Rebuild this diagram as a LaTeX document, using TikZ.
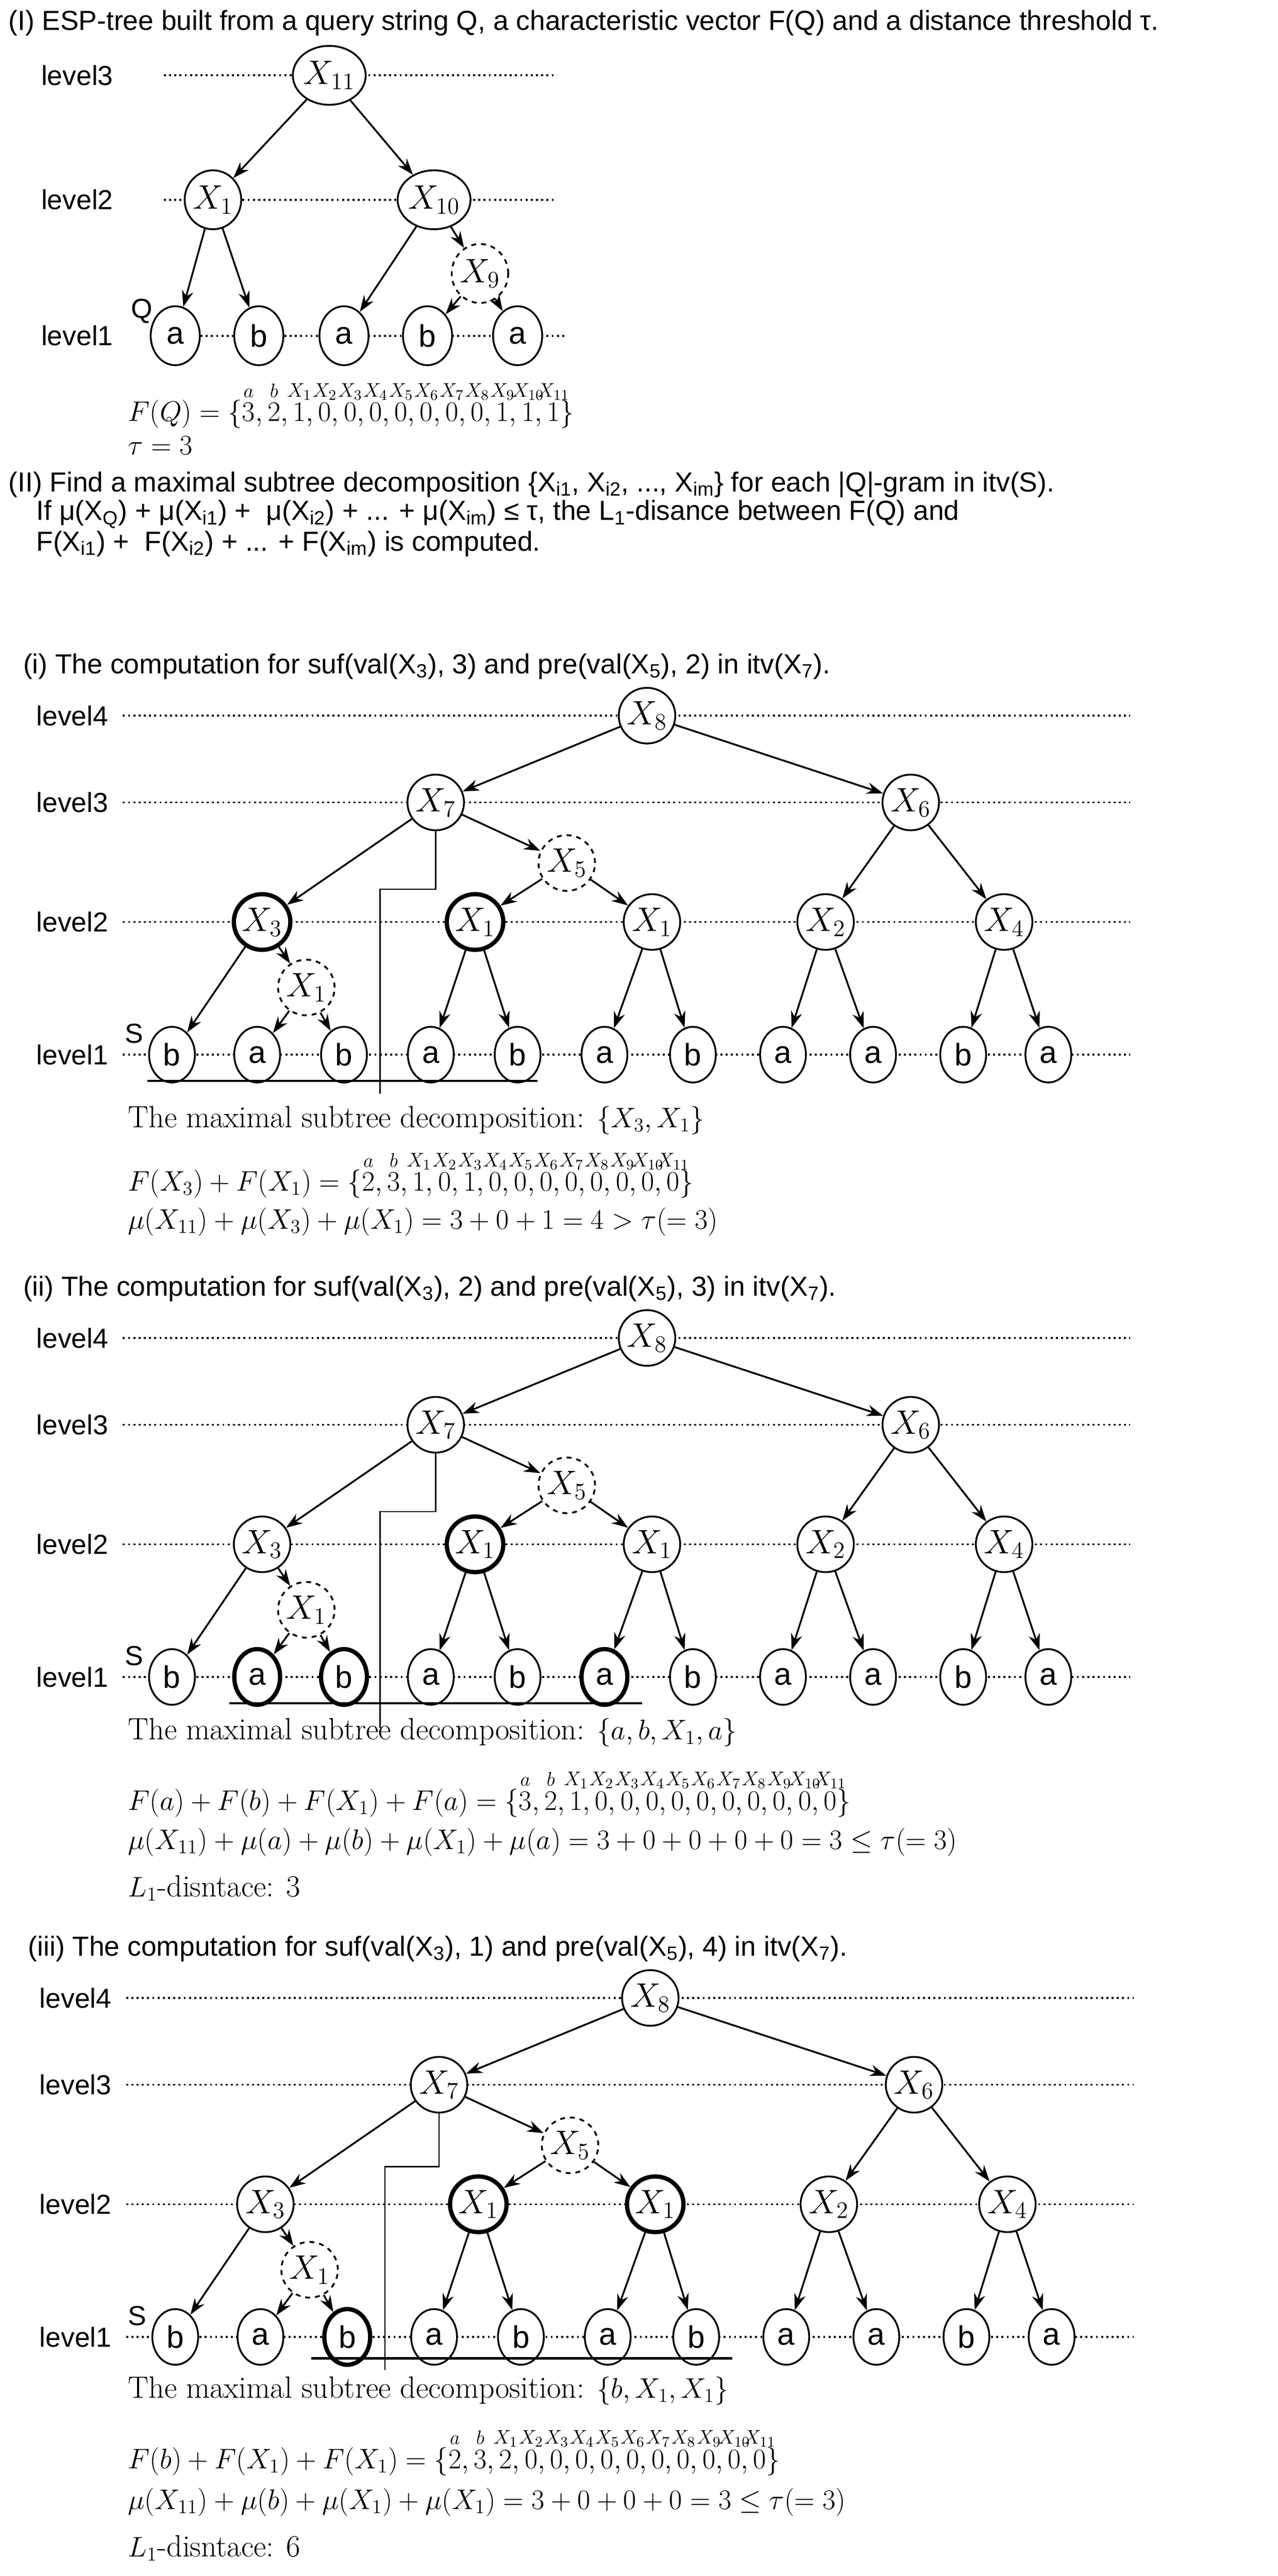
\documentclass[tikz,border=0pt]{standalone}
\usepackage{fontspec}
\usepackage{amsmath}
\usetikzlibrary{arrows.meta,shapes.geometric}
\newfontfamily\cond{Liberation Sans}
\newcommand\vl[2]{\overset{\makebox[0pt]{$\scriptstyle #2$}}{#1}}
\tikzset{
 nd/.style={ellipse,draw,fill=white,line width=1.1pt,minimum width=28pt,minimum height=34pt,inner sep=0pt,font=\fontsize{21}{21}\selectfont},
 lf/.style={nd,font=\cond\fontsize{19}{19}\selectfont},
 bld/.style={line width=2.6pt},
 dsh/.style={dashed},
 ar/.style={-{Stealth[length=10pt,width=7pt]},line width=1.1pt},
 lvl/.style={dotted,line width=1.2pt},
 txt/.style={font=\cond\fontsize{16.8}{18}\selectfont,anchor=west,inner sep=0pt},
 mth/.style={font=\fontsize{18.8}{20}\selectfont,anchor=west,inner sep=0pt},
 brk/.style={line width=0.8pt},
 uln/.style={line width=1.4pt},
 sX3/.style={},sX1a/.style={},sX1b/.style={},sL2/.style={},sL3/.style={},sL6/.style={}
}
\newcommand\bigpanel{%
 \foreach \yy in {0,53,126,207} {\draw[lvl] (75,\yy) -- (690,\yy);}
 \node[txt] (lv4) at (22,0) {level4};
 \node[txt] (lv3) at (22,53) {level3};
 \node[txt] (lv2) at (22,126) {level2};
 \node[txt] (lv1) at (22,207) {level1};
 \node[txt] (S) at (76,194) {S};
 \node[nd] (X8) at (395,0) {$X_8$};
 \node[nd] (X7) at (266,53) {$X_7$};
 \node[nd] (X6) at (556,53) {$X_6$};
 \node[nd,dsh] (X5) at (346,90) {$X_5$};
 \node[nd,sX3] (X3) at (160,126) {$X_3$};
 \node[nd,sX1a] (X1a) at (290,126) {$X_1$};
 \node[nd,sX1b] (X1b) at (398,126) {$X_1$};
 \node[nd] (X2) at (504,126) {$X_2$};
 \node[nd] (X4) at (613,126) {$X_4$};
 \node[nd,dsh] (X1d) at (187,166) {$X_1$};
 \node[lf] (L1) at (105,207) {b};
 \node[lf,sL2] (L2) at (157,207) {a};
 \node[lf,sL3] (L3) at (210,207) {b};
 \node[lf] (L4) at (263,207) {a};
 \node[lf] (L5) at (316,207) {b};
 \node[lf,sL6] (L6) at (369,207) {a};
 \node[lf] (L7) at (423,207) {b};
 \node[lf] (L8) at (478,207) {a};
 \node[lf] (L9) at (533,207) {a};
 \node[lf] (L10) at (588,207) {b};
 \node[lf] (L11) at (640,207) {a};
 \draw[ar] (X8) -- (X7); \draw[ar] (X8) -- (X6);
 \draw[ar] (X7) -- (X3); \draw[ar] (X7) -- (X5);
 \draw[ar] (X5) -- (X1a); \draw[ar] (X5) -- (X1b);
 \draw[ar] (X6) -- (X2); \draw[ar] (X6) -- (X4);
 \draw[ar] (X3) -- (L1); \draw[ar] (X3) -- (X1d);
 \draw[ar] (X1d) -- (L2); \draw[ar] (X1d) -- (L3);
 \draw[ar] (X1a) -- (L4); \draw[ar] (X1a) -- (L5);
 \draw[ar] (X1b) -- (L6); \draw[ar] (X1b) -- (L7);
 \draw[ar] (X2) -- (L8); \draw[ar] (X2) -- (L9);
 \draw[ar] (X4) -- (L10); \draw[ar] (X4) -- (L11);
}
\begin{document}
\begin{tikzpicture}[x=1pt,y=-1pt]
\useasboundingbox (0,0) rectangle (780,1573);
% ---------- Section I
\node[txt] (h1) at (5,14) {(I) ESP-tree built from a query string Q, a characteristic vector F(Q) and a distance threshold τ.};
\draw[lvl] (100,46) -- (340,46);
\draw[lvl] (100,122) -- (340,122);
\draw[lvl] (100,205) -- (345,205);
\node[txt] (q3) at (25,46) {level3};
\node[txt] (q2) at (25,122) {level2};
\node[txt] (q1) at (25,205) {level1};
\node[txt] (Q) at (80,190) {Q};
\node[nd,minimum width=31pt,minimum height=36pt] (Y11) at (201,46) {$X_{11}$};
\node[nd,minimum width=30pt,minimum height=36pt] (Y1) at (130,122) {$X_1$};
\node[nd,minimum width=31pt,minimum height=36pt] (Y10) at (265,122) {$X_{10}$};
\node[nd,dsh,minimum width=30pt,minimum height=36pt] (Y9) at (293,167) {$X_9$};
\node[lf,minimum width=30pt,minimum height=36pt] (Q1) at (107,205) {a};
\node[lf,minimum width=30pt,minimum height=36pt] (Q2) at (158,205) {b};
\node[lf,minimum width=30pt,minimum height=36pt] (Q3) at (210,205) {a};
\node[lf,minimum width=30pt,minimum height=36pt] (Q4) at (261,205) {b};
\node[lf,minimum width=30pt,minimum height=36pt] (Q5) at (316,205) {a};
\draw[ar] (Y11) -- (Y1); \draw[ar] (Y11) -- (Y10);
\draw[ar] (Y1) -- (Q1); \draw[ar] (Y1) -- (Q2);
\draw[ar] (Y10) -- (Q3); \draw[ar] (Y10) -- (Y9);
\draw[ar] (Y9) -- (Q4); \draw[ar] (Y9) -- (Q5);
\node[mth] (FQ) at (78,247) {$F(Q)=\{\vl3a,\vl2b,\vl1{X_1},\vl0{X_2},\vl0{X_3},\vl0{X_4},\vl0{X_5},\vl0{X_6},\vl0{X_7},\vl0{X_8},\vl1{X_9},\vl1{X_{10}},\vl1{X_{11}}\}$};
\node[mth] (tau) at (78,272) {$\tau=3$};
% ---------- Section II
\node[txt] (h2) at (5,296) {(II) Find a maximal subtree decomposition \{X\textsubscript{i1}, X\textsubscript{i2}, ..., X\textsubscript{im}\} for each |Q|-gram in itv(S).};
\node[txt] (h2b) at (22,314) {If μ(X\textsubscript{Q}) + μ(X\textsubscript{i1}) +\ \ μ(X\textsubscript{i2}) + ... + μ(X\textsubscript{im}) ≤ τ, the L\textsubscript{1}-disance between F(Q) and};
\node[txt] (h2c) at (22,332) {F(X\textsubscript{i1}) +\ \ F(X\textsubscript{i2}) + ... + F(X\textsubscript{im}) is computed.};
% ---------- Panel (i)
\node[txt] (hi) at (14,407) {(i) The computation for suf(val(X\textsubscript{3}), 3) and pre(val(X\textsubscript{5}), 2) in itv(X\textsubscript{7}).};
\begin{scope}[shift={(0,437)},name prefix=pa-,sX3/.style={bld},sX1a/.style={bld}]
 \bigpanel
 \draw[uln] (90,223) -- (328,223);
 \draw[brk] (X7.south) |- (232,106) -- (232,231);
\end{scope}
\node[mth] (ti) at (78,684) {The maximal subtree decomposition: $\{X_3,X_1\}$};
\node[mth] (fi) at (78,717) {$F(X_3)+F(X_1)=\{\vl2a,\vl3b,\vl1{X_1},\vl0{X_2},\vl1{X_3},\vl0{X_4},\vl0{X_5},\vl0{X_6},\vl0{X_7},\vl0{X_8},\vl0{X_9},\vl0{X_{10}},\vl0{X_{11}}\}$};
\node[mth] (mi) at (78,746) {$\mu(X_{11})+\mu(X_3)+\mu(X_1)=3+0+1=4>\tau(=3)$};
% ---------- Panel (ii)
\node[txt] (hii) at (14,787) {(ii) The computation for suf(val(X\textsubscript{3}), 2) and pre(val(X\textsubscript{5}), 3) in itv(X\textsubscript{7}).};
\begin{scope}[shift={(0,817)},name prefix=pb-,sX1a/.style={bld},sL2/.style={bld},sL3/.style={bld},sL6/.style={bld}]
 \bigpanel
 \draw[uln] (140,223) -- (392,223);
 \draw[brk] (X7.south) |- (232,106) -- (232,238);
\end{scope}
\node[mth] (tii) at (78,1058) {The maximal subtree decomposition: $\{a,b,X_1,a\}$};
\node[mth] (fii) at (78,1095) {$F(a)+F(b)+F(X_1)+F(a)=\{\vl3a,\vl2b,\vl1{X_1},\vl0{X_2},\vl0{X_3},\vl0{X_4},\vl0{X_5},\vl0{X_6},\vl0{X_7},\vl0{X_8},\vl0{X_9},\vl0{X_{10}},\vl0{X_{11}}\}$};
\node[mth] (mii) at (78,1125) {$\mu(X_{11})+\mu(a)+\mu(b)+\mu(X_1)+\mu(a)=3+0+0+0+0=3\leq\tau(=3)$};
\node[mth] (lii) at (78,1153) {$L_1$-disntace: 3};
% ---------- Panel (iii)
\node[txt] (hiii) at (17,1190) {(iii) The computation for suf(val(X\textsubscript{3}), 1) and pre(val(X\textsubscript{5}), 4) in itv(X\textsubscript{7}).};
\begin{scope}[shift={(2,1220)},name prefix=pc-,sX1a/.style={bld},sX1b/.style={bld},sL3/.style={bld}]
 \bigpanel
 \draw[uln] (188,220) -- (445,220);
 \draw[brk] (X7.south) |- (233,103) -- (233,227);
\end{scope}
\node[mth] (tiii) at (78,1460) {The maximal subtree decomposition: $\{b,X_1,X_1\}$};
\node[mth] (fiii) at (78,1497) {$F(b)+F(X_1)+F(X_1)=\{\vl2a,\vl3b,\vl2{X_1},\vl0{X_2},\vl0{X_3},\vl0{X_4},\vl0{X_5},\vl0{X_6},\vl0{X_7},\vl0{X_8},\vl0{X_9},\vl0{X_{10}},\vl0{X_{11}}\}$};
\node[mth] (miii) at (78,1528) {$\mu(X_{11})+\mu(b)+\mu(X_1)+\mu(X_1)=3+0+0+0=3\leq\tau(=3)$};
\node[mth] (liii) at (78,1556) {$L_1$-disntace: 6};
\end{tikzpicture}
\end{document}
